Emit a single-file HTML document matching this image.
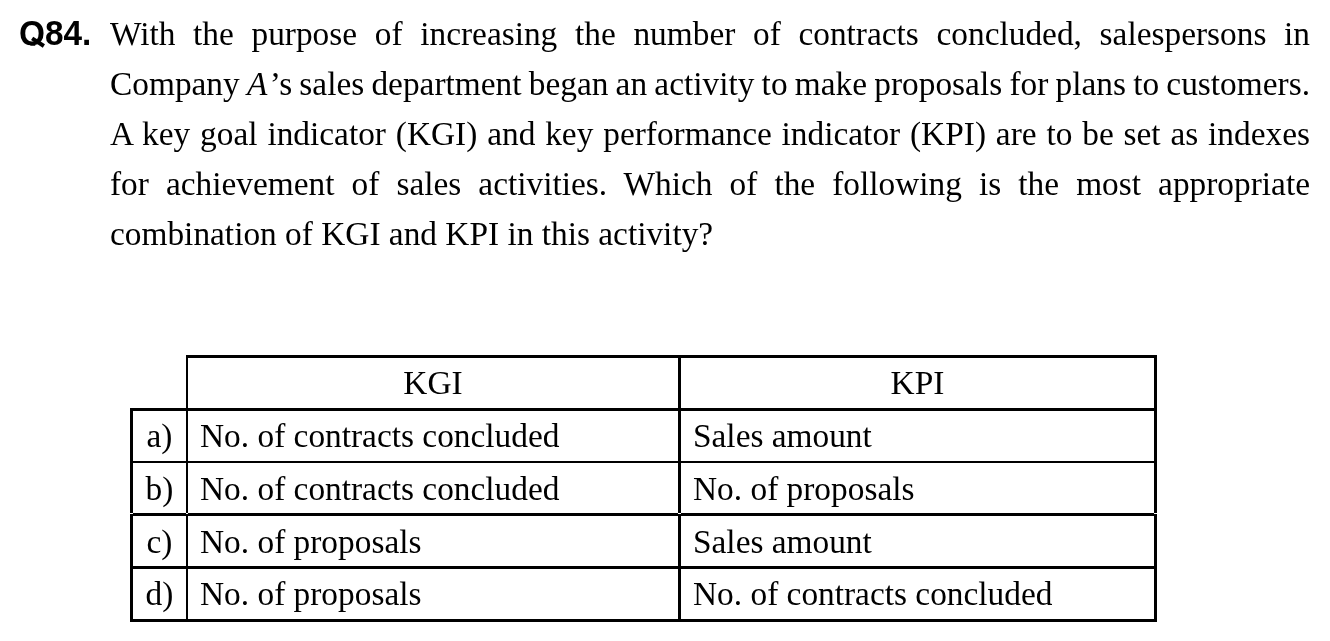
<!DOCTYPE html>
<html>
<head>
<meta charset="utf-8">
<style>
html,body{margin:0;padding:0;background:#fff;width:1330px;height:641px;overflow:hidden;}
body{position:relative;filter:grayscale(1);color:#000;font-family:"Liberation Serif",serif;font-size:33.37px;}
.q{position:absolute;left:19px;top:8.7px;line-height:50px;font-family:"Liberation Sans",sans-serif;font-weight:bold;transform:scaleY(1.045);transform-origin:0 36.3px;}
.qq{display:inline-block;clip-path:inset(0 0 13.2px 0);}
.qt{position:absolute;left:30.9px;top:39.6px;width:13.5px;height:4.2px;background:#000;transform:rotate(33deg);}
.p{position:absolute;left:110px;top:8.7px;width:1200px;line-height:50px;}
.p div{text-align:justify;text-align-last:justify;white-space:nowrap;}
.p div.last{text-align:left;text-align-last:left;}
.ln{position:absolute;background:#000;}
.t{position:absolute;line-height:50px;white-space:nowrap;}
.c{text-align:center;}
</style>
</head>
<body>
<div class="q"><span class="qq">Q</span>84.</div>
<div class="qt"></div>
<div class="p">
<div>With the purpose of increasing the number of contracts concluded, salespersons in</div>
<div style="word-spacing:-2px">Company <i style="margin-right:2.5px">A</i>’s sales department began an activity to make proposals for plans to customers.</div>
<div>A key goal indicator (KGI) and key performance indicator (KPI) are to be set as indexes</div>
<div>for achievement of sales activities. Which of the following is the most appropriate</div>
<div class="last">combination of KGI and KPI in this activity?</div>
</div>

<!-- table lines -->
<div class="ln" style="left:130px;top:513px;width:3px;height:1px;background:#fff;z-index:2"></div>
<div class="ln" style="left:186px;top:513px;width:2px;height:1px;background:#fff;z-index:2"></div>
<div class="ln" style="left:678px;top:513px;width:3px;height:1px;background:#fff;z-index:2"></div>
<div class="ln" style="left:1154px;top:513px;width:3px;height:1px;background:#fff;z-index:2"></div>
<div class="ln" style="left:186px;top:355px;width:971px;height:3px"></div>
<div class="ln" style="left:130px;top:408px;width:1027px;height:3px"></div>
<div class="ln" style="left:130px;top:461px;width:1027px;height:2px"></div>
<div class="ln" style="left:130px;top:513px;width:1027px;height:3px"></div>
<div class="ln" style="left:130px;top:566px;width:1027px;height:3px"></div>
<div class="ln" style="left:130px;top:619px;width:1027px;height:3px"></div>
<div class="ln" style="left:130px;top:408px;width:3px;height:214px"></div>
<div class="ln" style="left:186px;top:355px;width:2px;height:267px"></div>
<div class="ln" style="left:678px;top:355px;width:3px;height:267px"></div>
<div class="ln" style="left:1154px;top:355px;width:3px;height:267px"></div>

<!-- table text -->
<div class="t c" style="left:188px;width:490px;top:357.7px">KGI</div>
<div class="t c" style="left:681px;width:473px;top:357.7px">KPI</div>

<div class="t c" style="left:133px;width:53px;top:411.3px">a)</div>
<div class="t" style="left:200px;top:411.3px">No. of contracts concluded</div>
<div class="t" style="left:693px;top:411.3px">Sales amount</div>

<div class="t c" style="left:133px;width:53px;top:464px">b)</div>
<div class="t" style="left:200px;top:464px">No. of contracts concluded</div>
<div class="t" style="left:693px;top:464px">No. of proposals</div>

<div class="t c" style="left:133px;width:53px;top:516.7px">c)</div>
<div class="t" style="left:200px;top:516.7px">No. of proposals</div>
<div class="t" style="left:693px;top:516.7px">Sales amount</div>

<div class="t c" style="left:133px;width:53px;top:568.5px">d)</div>
<div class="t" style="left:200px;top:568.5px">No. of proposals</div>
<div class="t" style="left:693px;top:568.5px">No. of contracts concluded</div>
</body>
</html>
